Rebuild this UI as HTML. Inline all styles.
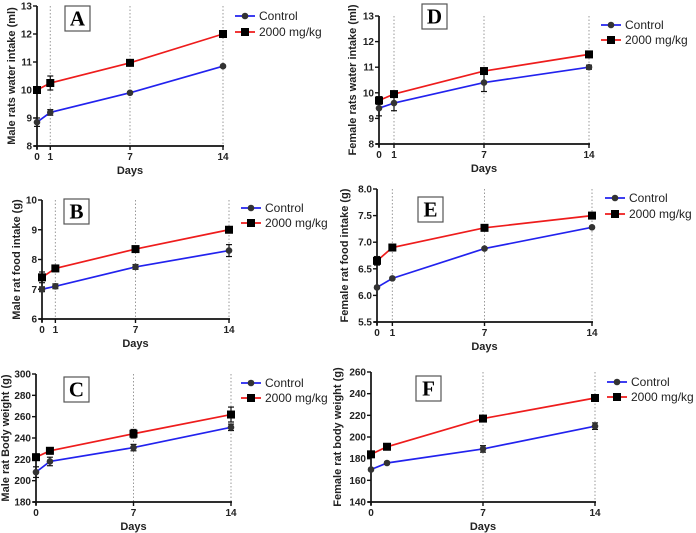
<!DOCTYPE html>
<html><head><meta charset="utf-8"><style>
body{margin:0;background:#fff;}
svg{display:block;font-family:"Liberation Sans",Arial,sans-serif;}
.tick{font-size:10px;font-weight:bold;fill:#222;}
.ttl{font-size:11px;font-weight:bold;fill:#222;}
.leg{font-size:12px;fill:#222;}
.box{font-family:"Liberation Serif",serif;font-size:21px;font-weight:bold;}
</style></head><body>
<svg id="fig" width="696" height="533" viewBox="0 0 696 533"></svg>
<script>
const days = [0, 1, 7, 14];
const aCtrl = [8.85, 9.2, 9.9, 10.85], aCtrlErr = [0.15, 0.1, 0.04, 0.04];
const aTrt = [10.0, 10.25, 10.97, 12.0], aTrtErr = [0.05, 0.25, 0.05, 0.05];
const dCtrl = [9.4, 9.6, 10.4, 11.0], dCtrlErr = [0.3, 0.3, 0.35, 0.08];
const dTrt = [9.7, 9.95, 10.85, 11.5], dTrtErr = [0.15, 0.05, 0.1, 0.12];
const bCtrl = [7.0, 7.1, 7.75, 8.3], bCtrlErr = [0.08, 0.08, 0.08, 0.2];
const bTrt = [7.4, 7.7, 8.35, 9.0], bTrtErr = [0.18, 0.1, 0.03, 0.03];
const eCtrl = [6.15, 6.32, 6.88, 7.28], eCtrlErr = [0.02, 0.02, 0.02, 0.02];
const eTrt = [6.65, 6.9, 7.27, 7.5], eTrtErr = [0.08, 0.03, 0.03, 0.03];
const cCtrl = [208, 218, 231, 250], cCtrlErr = [5, 4, 3, 3];
const cTrt = [222, 228, 244, 262], cTrtErr = [3, 3, 4, 7];
const fCtrl = [170, 176, 189, 210], fCtrlErr = [1, 1, 3, 3];
const fTrt = [184, 191, 217, 236], fTrtErr = [1, 1, 1, 3];
const aTicks = [8, 9, 10, 11, 12, 13];
const dTicks = [8, 9, 10, 11, 12, 13];
const bTicks = [6, 7, 8, 9, 10];
const eTicks = [5.5, 6.0, 6.5, 7.0, 7.5, 8.0];
const cTicks = [180, 200, 220, 240, 260, 280, 300];
const fTicks = [140, 160, 180, 200, 220, 240, 260];
const xTicksFull = [0, 1, 7, 14];
const xTicksBody = [0, 7, 14];

const NS = 'http://www.w3.org/2000/svg';
const svg = document.getElementById('fig');
function el(tag, attrs, parent, text) {
  const e = document.createElementNS(NS, tag);
  for (const k in attrs) e.setAttribute(k, attrs[k]);
  if (text !== undefined) e.textContent = text;
  (parent || svg).appendChild(e);
  return e;
}

function panel(p) {
  const g = el('g', {});
  
  
  const yMin = p.yTicks[0], yMax = p.yTicks[p.yTicks.length - 1];
  const sx = v => p.x0 + (v / 14) * (p.x1 - p.x0);
  const sy = v => p.yb - (v - yMin) / (yMax - yMin) * (p.yb - p.yt);
  p.grid.forEach(d => {
    const l = el('line', {x1: sx(d), x2: sx(d), y1: p.yt, y2: p.yb, stroke: '#999', 'stroke-width': 1, 'stroke-dasharray': '1.5,2'}, g);
    
    
  });
  const ya = el('line', {x1: p.x0, x2: p.x0, y1: p.yt, y2: p.yb + 3, stroke: '#111', 'stroke-width': 1.7}, g);
  
  
  const xa = el('line', {x1: p.x0 - 3, x2: p.x1 + 1, y1: p.yb, y2: p.yb, stroke: '#111', 'stroke-width': 1.7}, g);
  
  
  p.yTicks.forEach(t => {
    el('line', {x1: p.x0 - 4, x2: p.x0, y1: sy(t), y2: sy(t), stroke: '#111', 'stroke-width': 1.4}, g);
    const tx = el('text', {x: p.x0 - 5, y: sy(t) + 3.5, 'text-anchor': 'end', class: 'tick'}, g, p.yFmt ? t.toFixed(1) : t);
    
    
  });
  p.xTicks.forEach(t => {
    el('line', {x1: sx(t), x2: sx(t), y1: p.yb, y2: p.yb + 4, stroke: '#111', 'stroke-width': 1.4}, g);
    const tx = el('text', {x: sx(t), y: p.yb + 14, 'text-anchor': 'middle', class: 'tick'}, g, t);
    
    
  });
  const xt = el('text', {x: (p.x0 + p.x1) / 2, y: p.yb + 28, 'text-anchor': 'middle', class: 'ttl'}, g, 'Days');
  
  
  const ycy = (p.yt + p.yb) / 2;
  const yt = el('text', {x: p.titleX, y: ycy, 'text-anchor': 'middle', class: 'ttl', transform: 'rotate(-90 ' + p.titleX + ' ' + ycy + ')'}, g, p.yTitle);
  
  
  const series = [
    {vals: p.ctrl, err: p.ctrlErr, color: '#2222ee', shape: 'circle', name: 'control'},
    {vals: p.trt, err: p.trtErr, color: '#ee1c1c', shape: 'square', name: 'treated'}
  ];
  series.forEach(s => {
    const pts = days.map((d, i) => sx(d) + ',' + sy(s.vals[i])).join(' ');
    const pl = el('polyline', {points: pts, fill: 'none', stroke: s.color, 'stroke-width': 1.7}, g);
    
    
    days.forEach((d, i) => {
      const x = sx(d), y = sy(s.vals[i]), e1 = sy(s.vals[i] + s.err[i]), e2 = sy(s.vals[i] - s.err[i]);
      el('line', {x1: x, x2: x, y1: e1, y2: e2, stroke: '#111', 'stroke-width': 1.2}, g);
      el('line', {x1: x - 3, x2: x + 3, y1: e1, y2: e1, stroke: '#111', 'stroke-width': 1.2}, g);
      el('line', {x1: x - 3, x2: x + 3, y1: e2, y2: e2, stroke: '#111', 'stroke-width': 1.2}, g);
      let m;
      if (s.shape === 'circle') m = el('circle', {cx: x, cy: y, r: 3.3, fill: '#333'}, g);
      else m = el('rect', {x: x - 4, y: y - 4, width: 8, height: 8, fill: '#000'}, g);
      
      
    });
  });
  const lg = el('g', {}, g);
  
  
  [['Control', '#2222ee', 'circle', p.legY1], ['2000 mg/kg', '#ee1c1c', 'square', p.legY2]].forEach(([t, c, sh, y]) => {
    el('line', {x1: p.legX - 10, x2: p.legX + 10, y1: y, y2: y, stroke: c, 'stroke-width': 1.7}, lg);
    if (sh === 'circle') el('circle', {cx: p.legX, cy: y, r: 3.3, fill: '#333'}, lg);
    else el('rect', {x: p.legX - 4, y: y - 4, width: 8, height: 8, fill: '#000'}, lg);
    const tx = el('text', {x: p.legX + 14, y: y + 4, class: 'leg'}, lg, t);
    
    
  });
  el('rect', {x: p.box[0], y: p.box[1], width: 25, height: 25, fill: '#fff', stroke: '#555', 'stroke-width': 1.2}, g);
  const bt = el('text', {x: p.box[0] + 12.5, y: p.box[1] + 19.5, 'text-anchor': 'middle', class: 'box'}, g, p.id);
  
  
}

panel({id: 'A', x0: 37, x1: 223, yt: 6, yb: 146, yTicks: aTicks, xTicks: xTicksFull, grid: [1, 7, 14], ctrl: aCtrl, ctrlErr: aCtrlErr, trt: aTrt, trtErr: aTrtErr, yTitle: 'Male rats water intake (ml)', titleX: 15, legX: 245, legY1: 16, legY2: 32, box: [65, 6]});
panel({id: 'D', x0: 379, x1: 589, yt: 16, yb: 144, yTicks: dTicks, xTicks: xTicksFull, grid: [1, 7, 14], ctrl: dCtrl, ctrlErr: dCtrlErr, trt: dTrt, trtErr: dTrtErr, yTitle: 'Female rats water intake (ml)', titleX: 356, legX: 611, legY1: 25, legY2: 40, box: [422, 4]});
panel({id: 'B', x0: 42, x1: 229, yt: 200, yb: 319, yTicks: bTicks, xTicks: xTicksFull, grid: [1, 7, 14], ctrl: bCtrl, ctrlErr: bCtrlErr, trt: bTrt, trtErr: bTrtErr, yTitle: 'Male rat food intake (g)', titleX: 20, legX: 251, legY1: 208, legY2: 223, box: [64, 199]});
panel({id: 'E', x0: 377, x1: 592, yt: 189, yb: 322, yTicks: eTicks, yFmt: true, xTicks: xTicksFull, grid: [1, 7, 14], ctrl: eCtrl, ctrlErr: eCtrlErr, trt: eTrt, trtErr: eTrtErr, yTitle: 'Female rat food intake (g)', titleX: 348, legX: 615, legY1: 198, legY2: 214, box: [418, 197]});
panel({id: 'C', x0: 36, x1: 231, yt: 374, yb: 502, yTicks: cTicks, xTicks: xTicksBody, grid: [7, 14], ctrl: cCtrl, ctrlErr: cCtrlErr, trt: cTrt, trtErr: cTrtErr, yTitle: 'Male rat Body weight (g)', titleX: 9, legX: 251, legY1: 383, legY2: 398, box: [64, 377]});
panel({id: 'F', x0: 371, x1: 595, yt: 372, yb: 502, yTicks: fTicks, xTicks: xTicksBody, grid: [7, 14], ctrl: fCtrl, ctrlErr: fCtrlErr, trt: fTrt, trtErr: fTrtErr, yTitle: 'Female rat body weight (g)', titleX: 341, legX: 617, legY1: 382, legY2: 397, box: [416, 376]});
</script>
</body></html>
